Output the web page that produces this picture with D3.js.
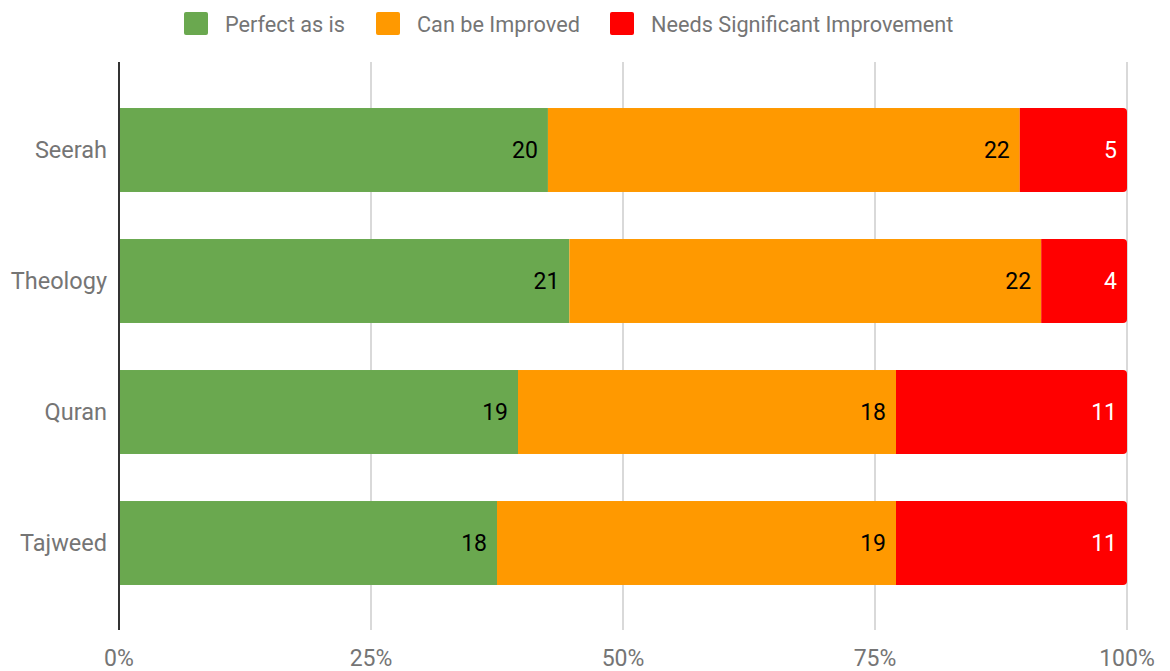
<!DOCTYPE html>
<html lang="en">
<head>
	<meta charset="utf-8" />
	<title>Stacked ratings</title>
	<script src="https://d3js.org/d3.v7.min.js"></script>
	<style>
		body { margin: 0; background: #fff; }
		text { font-family: Roboto, "Noto Sans", sans-serif; }
	</style>
</head>
<body>
	<div id="my_dataviz"></div>
	<script>
		// data
		var categories = ["Seerah", "Theology", "Quran", "Tajweed"];
		var seriesNames = ["Perfect as is", "Can be Improved", "Needs Significant Improvement"];
		var perfect = [20, 21, 19, 18];
		var improve = [22, 22, 18, 19];
		var needs = [5, 4, 11, 11];
		var tickValues = [0, 0.25, 0.5, 0.75, 1];
		var tickLabels = ["0%", "25%", "50%", "75%", "100%"];
		var colors = ["#6aa84f", "#ff9900", "#ff0000"];
		var labelColors = ["#000000", "#000000", "#ffffff"];

		var width = 1170, height = 671;
		var plot = { left: 119, right: 1127, top: 62, bottom: 630 };
		var fontSize = 23;

		var svg = d3.select("#my_dataviz")
			.append("svg")
			.attr("width", width)
			.attr("height", height);

		var rows = categories.map(function(c, i) {
			return { cat: c, vals: [perfect[i], improve[i], needs[i]] };
		});

		var x = d3.scaleLinear().domain([0, 1]).range([plot.left, plot.right]);
		var y = d3.scaleBand()
			.domain(categories)
			.range([84.5, 608.5])
			.paddingInner(0.359)
			.paddingOuter(0.1795);

		// gridlines
		svg.append("g")
			.selectAll("line")
			.data(tickValues.slice(1))
			.enter()
			.append("line")
			.attr("x1", function(d) { return x(d); })
			.attr("x2", function(d) { return x(d); })
			.attr("y1", plot.top)
			.attr("y2", plot.bottom)
			.style("stroke", "#cccccc")
			.style("stroke-width", 1.5);

		// x tick labels
		svg.append("g")
			.selectAll("text")
			.data(tickValues)
			.enter()
			.append("text")
			.attr("x", function(d) { return x(d); })
			.attr("y", 666)
			.attr("text-anchor", "middle")
			.style("font-size", fontSize + "px")
			.style("fill", "#757575")
			.text(function(d, i) { return tickLabels[i]; });

		// stacked segments, the last one gets rounded right corners
		rows.forEach(function(r) {
			var total = d3.sum(r.vals);
			var cum = 0;
			var g = svg.append("g");
			r.vals.forEach(function(v, si) {
				var x0 = x(cum / total);
				cum += v;
				var x1 = x(cum / total);
				if (si === r.vals.length - 1) {
					var rr = 4, yt = y(r.cat), h = y.bandwidth();
					g.append("path")
						.attr("d", "M" + x0 + "," + yt + "H" + (x1 - rr) + "Q" + x1 + "," + yt + " " + x1 + "," + (yt + rr) +
							"V" + (yt + h - rr) + "Q" + x1 + "," + (yt + h) + " " + (x1 - rr) + "," + (yt + h) + "H" + x0 + "Z")
						.style("fill", colors[si]);
				} else {
					g.append("rect")
						.attr("x", x0)
						.attr("y", y(r.cat))
						.attr("width", x1 - x0)
						.attr("height", y.bandwidth())
						.style("fill", colors[si]);
				}
				g.append("text")
					.attr("x", x1 - 10)
					.attr("y", y(r.cat) + y.bandwidth() / 2)
					.attr("dy", "0.35em")
					.attr("text-anchor", "end")
					.style("font-size", fontSize + "px")
					.style("fill", labelColors[si])
					.text(v);
			});
		});

		// category axis
		svg.append("line")
			.attr("x1", plot.left)
			.attr("x2", plot.left)
			.attr("y1", plot.top)
			.attr("y2", plot.bottom)
			.style("stroke", "#333333")
			.style("stroke-width", 2);

		svg.append("g")
			.selectAll("text")
			.data(categories)
			.enter()
			.append("text")
			.attr("x", 107)
			.attr("y", function(d) { return y(d) + y.bandwidth() / 2; })
			.attr("dy", "0.35em")
			.attr("text-anchor", "end")
			.style("font-size", "23.5px")
			.style("fill", "#757575")
			.text(function(d) { return d; });

		// legend
		var legendX = [184, 376, 610];
		var legend = svg.append("g");
		seriesNames.forEach(function(n, i) {
			legend.append("rect")
				.attr("x", legendX[i])
				.attr("y", 12)
				.attr("width", 24)
				.attr("height", 23)
				.attr("rx", 2)
				.style("fill", colors[i]);
			legend.append("text")
				.attr("x", legendX[i] + 41)
				.attr("y", 24)
				.attr("dy", "0.35em")
				.style("font-size", "21.7px")
				.style("fill", "#757575")
				.text(n);
		});
	</script>
</body>
</html>
